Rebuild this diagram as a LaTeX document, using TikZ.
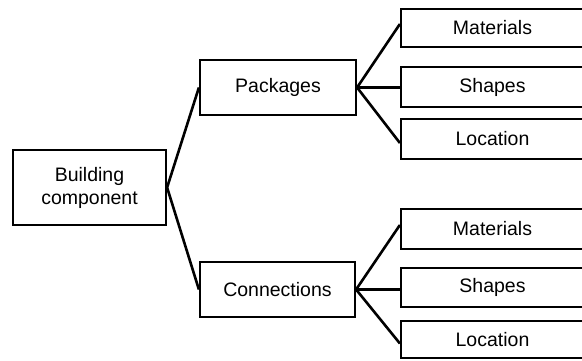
\documentclass[tikz,border=0pt]{standalone}
\usepackage{fontspec}
\setmainfont{Liberation Sans}
\begin{document}
\begin{tikzpicture}[x=1pt,y=-1pt,
  box/.style={draw=black, line width=2.2pt, fill=white, inner sep=0pt, align=center,
    font=\fontsize{19.5}{23}\selectfont},
  leaf/.style={box, minimum width=183pt},
  link/.style={draw=black, line width=2.6pt}]
\useasboundingbox (0,0) rectangle (582,360);
\node[box, minimum width=153pt, minimum height=75pt] (bc) at (89.5,187.5) {Building\\component};
\node[box, minimum width=156pt, minimum height=55pt] (pk) at (278,87.5) {Packages};
\node[box, minimum width=155pt, minimum height=55pt] (cn) at (277.5,289.5) {Connections};
\node[leaf, minimum height=38pt] (m1) at (492.5,28) {Materials};
\node[leaf, minimum height=40pt] (s1) at (492.5,87) {Shapes};
\node[leaf, minimum height=40pt] (l1) at (492.5,139) {Location};
\node[leaf, minimum height=40pt] (m2) at (492.5,229) {Materials};
\node[leaf, minimum height=39pt] (s2) at (492.5,287.5) {Shapes};
\node[leaf, minimum height=37pt] (l2) at (492.5,339.5) {Location};
\draw[link, line join=round] (pk.west) -- (bc.east) -- (cn.west);
\draw[link, line join=round] ([yshift=4pt]m1.west) -- (pk.east) -- ([yshift=-4pt]l1.west);
\draw[link] (pk.east) -- (s1.west |- pk.east);
\draw[link, line join=round] ([yshift=4pt]m2.west) -- (cn.east) -- ([yshift=-4pt]l2.west);
\draw[link] (cn.east) -- (s2.west |- cn.east);
\end{tikzpicture}
\end{document}
